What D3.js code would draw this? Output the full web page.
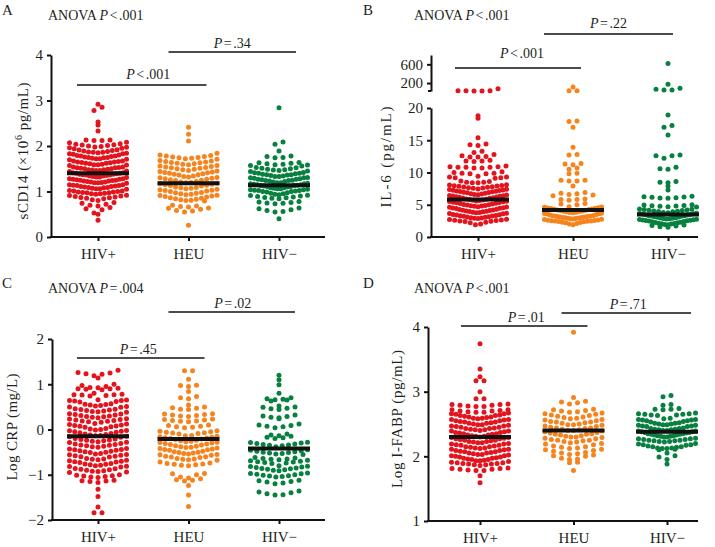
<!DOCTYPE html>
<html>
<head>
<meta charset="utf-8">
<script src="https://cdn.jsdelivr.net/npm/d3@7"></script>
<style>
body { margin: 0; background: #fff; }
svg text { font-family: "Liberation Serif", "Times New Roman", serif; fill: #231f20; }
</style>
</head>
<body>
<svg id="fig" width="715" height="547"></svg>
<script>
var groups = ["HIV+", "HEU", "HIV\u2212"];
var colors = ["#e3141d", "#f5841f", "#08803f"];

// A: sCD14 (x10^6 pg/mL)
var sCD14_hivPos = [2.92,2.85,2.78,2.53,2.46,2.33,
  2.13,2.13,2.12,2.12,2.08,2.07,
  2.05,2.04,2.03,2.02,2.01,2.00,1.99,1.98,1.97,1.96,1.95,1.94,
  1.92,1.91,1.90,1.89,1.88,1.87,1.86,1.86,1.85,1.84,1.83,1.83,1.82,
  1.80,1.79,1.78,1.78,1.77,1.76,1.75,1.75,1.74,1.73,1.72,1.72,1.71,1.70,
  1.67,1.67,1.66,1.65,1.65,1.64,1.63,1.62,1.62,1.61,1.60,1.59,1.59,1.58,1.57,
  1.54,1.54,1.53,1.52,1.52,1.51,1.50,1.50,1.49,1.48,1.48,1.47,1.46,1.46,1.45,1.44,
  1.41,1.41,1.40,1.40,1.39,1.38,1.38,1.37,1.36,1.36,1.35,1.34,1.34,1.33,1.32,1.32,1.31,
  1.28,1.28,1.27,1.27,1.26,1.25,1.25,1.24,1.23,1.23,1.22,1.21,1.21,1.20,1.19,1.19,1.18,
  1.15,1.15,1.14,1.13,1.13,1.12,1.11,1.11,1.10,1.09,1.09,1.08,1.07,1.06,1.06,1.05,
  1.02,1.01,1.01,1.00,0.99,0.99,0.98,0.97,0.97,0.96,0.95,0.95,0.94,
  0.92,0.91,0.90,0.89,0.88,0.87,0.86,0.85,0.84,0.82,0.80,
  0.76,0.74,0.72,0.70,0.68,0.65,
  0.62,0.60,0.53,0.50,
  0.37];
var sCD14_heu = [2.41,2.26,2.11,1.84,
  1.80,1.79,1.78,1.77,1.76,1.75,1.74,1.73,1.72,1.71,
  1.68,1.67,1.66,1.65,1.64,1.63,1.62,1.61,1.60,1.59,
  1.57,1.56,1.55,1.54,1.53,1.52,1.51,1.50,1.49,1.48,
  1.46,1.45,1.44,1.43,1.42,1.41,1.40,1.39,1.38,1.37,1.36,
  1.34,1.33,1.32,1.31,1.30,1.29,1.28,1.27,1.26,1.25,1.24,
  1.22,1.21,1.20,1.19,1.18,1.17,1.16,1.15,1.14,1.13,1.12,
  1.10,1.09,1.08,1.07,1.06,1.05,1.04,1.03,1.02,1.01,1.00,
  0.98,0.97,0.96,0.95,0.94,0.93,0.92,0.91,0.90,0.89,0.88,
  0.86,0.85,0.84,0.83,0.82,0.81,0.80,0.79,
  0.70,0.68,0.67,0.66,0.64,0.63,0.61,
  0.58,0.57,0.55,
  0.26];
var sCD14_hivNeg = [2.84,2.09,2.04,1.89,
  1.78,1.77,1.75,1.74,
  1.64,1.63,1.62,1.61,1.60,1.59,1.58,1.57,1.56,
  1.53,1.52,1.51,1.50,1.49,1.48,1.47,1.46,1.45,1.44,
  1.42,1.41,1.40,1.40,1.39,1.38,1.37,1.37,1.36,1.35,1.34,1.33,1.33,
  1.31,1.30,1.30,1.29,1.28,1.27,1.27,1.26,1.25,1.24,1.24,1.23,1.22,1.21,
  1.19,1.19,1.18,1.17,1.17,1.16,1.15,1.15,1.14,1.13,1.13,1.12,1.11,1.11,1.10,
  1.08,1.08,1.07,1.06,1.06,1.05,1.04,1.04,1.03,1.02,1.02,1.01,1.00,1.00,0.99,
  0.97,0.96,0.95,0.94,0.93,0.92,0.91,0.90,0.89,0.88,0.87,0.86,0.85,0.84,
  0.78,0.77,0.76,0.75,0.74,0.73,
  0.64,0.62,0.60,0.58,0.56,0.55,
  0.40];
var centerA = [1.40, 1.18, 1.14];
var ticksA = [0, 1, 2, 3, 4];

// B: IL-6 (pg/mL), broken axis
var il6_hivPos = [80,34,33,33,32,32,
  18.8,18.4,15.4,14.4,14.3,14.2,13.3,13.1,
  12.8,12.6,12.5,12.4,12.4,
  11.9,11.8,11.8,11.7,
  11.0,10.9,10.9,10.8,10.8,10.8,10.7,10.7,
  10.1,10.0,9.9,9.9,9.8,9.8,
  9.4,9.3,9.3,9.2,9.2,9.1,
  8.7,8.6,8.5,8.5,8.4,8.4,
  8.1,8.05,8.0,7.95,7.9,7.85,7.8,7.75,7.7,7.65,7.6,7.55,
  7.45,7.4,7.35,7.3,7.25,7.2,7.15,7.1,7.05,7.0,6.95,6.9,6.85,6.8,
  6.7,6.65,6.6,6.55,6.5,6.45,6.4,6.35,6.3,6.25,6.2,6.15,6.1,6.05,6.0,
  5.9,5.85,5.8,5.75,5.7,5.65,5.6,5.55,5.5,5.45,5.4,5.35,5.3,5.25,5.2,
  5.1,5.05,5.0,4.95,4.9,4.85,4.8,4.75,4.7,4.65,4.6,4.55,4.5,4.45,4.4,
  4.3,4.25,4.2,4.15,4.1,4.05,4.0,3.95,3.9,3.85,3.8,3.75,3.7,3.65,3.6,
  3.5,3.45,3.4,3.35,3.3,3.25,3.2,3.15,3.1,3.05,3.0,2.95,2.9,2.85,
  2.75,2.7,2.65,2.6,2.55,2.5,2.45,2.4,2.3,2.2,2.0,1.9];
var il6_heu = [116,34,33,
  18.0,17.9,17.0,13.9,12.8,12.7,11.4,11.3,11.2,10.7,10.5,9.9,9.8,8.8,8.8,8.7,8.7,7.9,
  6.9,6.8,6.7,6.6,6.5,6.4,5.9,5.8,5.8,5.7,5.2,5.1,5.0,
  4.7,4.65,4.6,4.55,4.5,4.45,4.4,4.35,4.3,4.25,4.2,4.15,
  4.1,4.05,4.0,3.95,3.9,3.85,3.8,3.75,3.7,3.65,3.6,3.55,3.5,3.45,
  3.35,3.3,3.27,3.24,3.2,3.17,3.14,3.1,3.07,3.04,3.0,2.97,2.94,2.9,2.87,2.84,2.8,2.77,
  2.7,2.65,2.6,2.57,2.53,2.5,2.47,2.43,2.4,2.35,2.3,2.25,2.2,2.1,2.0,1.9];
var il6_hivNeg = [620,175,88,65,52,52,
  18.9,17.3,17.0,15.8,12.7,12.6,12.6,12.2,10.8,10.6,10.5,8.6,8.5,8.4,7.9,7.3,
  6.3,6.25,6.2,6.15,6.1,6.05,6.0,
  5.0,4.95,4.9,4.85,4.8,4.75,4.7,4.65,
  4.35,4.3,4.25,4.2,4.15,4.1,4.05,4.0,3.95,3.9,
  3.8,3.75,3.7,3.65,3.6,3.55,3.5,3.45,3.4,3.35,3.3,3.25,3.2,3.15,
  3.1,3.05,3.0,2.96,2.92,2.88,2.84,2.8,2.76,2.72,2.68,2.64,2.6,2.56,2.52,2.48,
  2.4,2.35,2.3,2.25,2.2,2.15,2.1,2.05,2.0,1.95,1.9,1.85,1.8,1.7,1.6,1.5];
var centerB = [5.8, 4.2, 3.5];
var ticksB = [0, 5, 10, 15, 20];
var ticksBUpper = [200, 600];

// C: Log CRP (mg/L)
var crp_hivPos = [1.31,1.26,1.25,1.23,1.22,1.19,1.14,
  1.00,0.97,0.95,0.93,
  0.92,0.91,0.90,0.90,0.89,0.88,
  0.80,0.78,0.77,0.77,0.76,0.75,0.74,
  0.66,0.65,0.64,0.64,0.63,0.62,0.61,
  0.57,0.56,0.55,0.54,0.53,0.52,0.51,0.50,0.49,
  0.46,0.45,0.44,0.43,0.42,0.41,0.40,0.39,0.38,
  0.35,0.34,0.33,0.32,0.31,0.30,0.29,0.28,0.27,0.26,
  0.24,0.23,0.22,0.21,0.20,0.19,0.18,0.17,0.16,
  0.13,0.12,0.11,0.10,0.09,0.08,0.07,0.06,0.05,
  0.02,0.01,0.00,-0.01,-0.02,-0.03,-0.04,-0.05,-0.06,-0.07,
  -0.09,-0.10,-0.11,-0.12,-0.13,-0.14,-0.15,-0.16,-0.17,
  -0.20,-0.21,-0.22,-0.23,-0.24,-0.25,-0.26,-0.27,-0.28,-0.29,
  -0.31,-0.32,-0.33,-0.34,-0.35,-0.36,-0.37,-0.38,-0.39,
  -0.42,-0.43,-0.44,-0.45,-0.46,-0.47,-0.48,-0.49,-0.50,-0.51,
  -0.53,-0.54,-0.55,-0.56,-0.57,-0.58,-0.59,-0.60,-0.61,
  -0.64,-0.65,-0.66,-0.67,-0.68,-0.69,-0.70,-0.71,-0.72,-0.73,
  -0.75,-0.76,-0.77,-0.78,-0.79,-0.80,-0.81,-0.82,-0.83,
  -0.86,-0.87,-0.88,-0.89,-0.90,-0.91,-0.92,-0.93,-0.94,-0.95,
  -1.00,-1.01,-1.02,-1.03,-1.04,-1.05,-1.06,
  -1.12,-1.13,-1.14,-1.15,-1.17,
  -1.32,-1.48,-1.71,-1.84,-1.84];
var crp_heu = [1.30,1.30,1.11,0.98,0.97,0.95,0.84,0.73,0.70,0.68,
  0.54,0.50,0.48,0.47,0.45,0.44,
  0.35,0.34,0.33,0.32,0.31,0.30,0.29,
  0.23,0.22,0.21,0.20,0.19,0.18,0.17,
  0.10,0.09,0.07,0.06,0.05,0.04,
  -0.03,-0.04,-0.05,-0.06,-0.07,-0.08,-0.09,-0.10,
  -0.13,-0.14,-0.15,-0.16,-0.17,-0.18,-0.19,-0.20,-0.21,-0.22,
  -0.24,-0.25,-0.26,-0.27,-0.28,-0.29,-0.30,-0.31,-0.32,-0.33,-0.34,
  -0.36,-0.37,-0.38,-0.39,-0.40,-0.41,-0.42,-0.43,-0.44,-0.45,-0.46,
  -0.48,-0.49,-0.50,-0.51,-0.52,-0.53,-0.54,-0.55,-0.56,-0.57,
  -0.59,-0.60,-0.61,-0.62,-0.64,-0.65,-0.66,-0.67,-0.68,
  -0.72,-0.74,-0.75,-0.76,-0.77,-0.78,-0.79,-0.80,
  -0.97,-0.98,-1.00,
  -1.05,-1.07,-1.09,-1.11,-1.12,-1.14,
  -1.24,-1.45,-1.70];
var crp_hivNeg = [1.20,1.10,0.99,0.80,
  0.70,0.68,0.67,0.66,0.65,0.63,
  0.52,0.50,0.49,0.47,0.46,0.44,
  0.32,0.30,0.29,0.27,0.26,0.24,
  0.12,0.10,0.09,0.07,0.06,0.04,
  -0.10,-0.12,-0.14,-0.15,-0.17,-0.18,-0.20,
  -0.28,-0.29,-0.30,-0.31,-0.32,-0.33,-0.34,-0.35,-0.36,-0.38,
  -0.45,-0.46,-0.47,-0.48,-0.49,-0.50,-0.51,-0.52,-0.53,-0.54,-0.55,
  -0.62,-0.63,-0.64,-0.65,-0.66,-0.67,-0.68,-0.69,-0.70,-0.71,-0.72,-0.73,-0.74,-0.75,
  -0.80,-0.81,-0.82,-0.83,-0.84,-0.85,-0.86,-0.87,-0.88,-0.89,-0.90,-0.91,
  -0.96,-0.97,-0.98,-0.99,-1.00,-1.01,-1.02,-1.03,-1.04,-1.05,
  -1.12,-1.13,-1.15,-1.16,-1.18,-1.20,
  -1.36,-1.38,-1.40,-1.42,-1.44,-1.45];
var centerC = [-0.15, -0.21, -0.42];
var ticksC = [-2, -1, 0, 1, 2];

// D: Log I-FABP (pg/mL)
var ifabp_hivPos = [3.74,3.35,3.23,3.17,3.17,3.00,
  2.89,2.89,
  2.81,2.80,2.80,2.79,2.79,2.78,2.77,2.77,
  2.72,2.72,2.71,2.70,2.70,2.69,2.68,2.68,2.67,2.66,2.66,2.65,
  2.64,2.63,2.63,2.62,2.61,2.61,2.60,2.59,2.59,2.58,2.57,2.57,
  2.56,2.55,2.55,2.54,2.53,2.53,2.52,2.51,2.51,2.50,2.49,2.49,
  2.48,2.47,2.47,2.46,2.45,2.45,2.44,2.43,2.43,2.42,2.41,2.41,
  2.40,2.39,2.39,2.38,2.37,2.37,2.36,2.35,2.35,2.34,2.33,2.33,
  2.32,2.31,2.31,2.30,2.29,2.29,2.28,2.27,2.27,2.26,2.25,2.25,
  2.24,2.23,2.23,2.22,2.21,2.21,2.20,2.19,2.19,2.18,2.17,2.17,
  2.16,2.15,2.15,2.14,2.13,2.13,2.12,2.11,2.11,2.10,2.09,2.09,
  2.08,2.07,2.07,2.06,2.05,2.05,2.04,2.03,2.03,2.02,2.01,2.01,
  2.00,1.99,1.99,1.98,1.97,1.97,1.96,1.95,1.95,1.94,1.93,1.93,
  1.92,1.91,1.90,1.90,1.89,1.89,1.88,1.88,1.87,1.87,1.86,
  1.82,1.81,1.81,1.80,1.80,1.79,1.78,1.78,
  1.70,1.59];
var ifabp_heu = [3.92,2.91,2.85,2.84,2.83,2.81,
  2.73,2.72,2.71,2.70,2.69,2.68,2.67,2.66,2.65,
  2.64,2.63,2.62,2.61,2.60,2.59,2.58,2.57,2.56,2.55,
  2.54,2.53,2.53,2.52,2.51,2.50,2.49,2.49,2.48,2.47,2.46,
  2.45,2.44,2.44,2.43,2.42,2.41,2.40,2.40,2.39,2.38,2.37,2.36,
  2.35,2.34,2.34,2.33,2.32,2.31,2.30,2.30,2.29,2.28,2.27,
  2.26,2.25,2.25,2.24,2.23,2.22,2.21,2.20,2.19,2.18,
  2.16,2.15,2.14,2.13,2.12,2.11,2.10,2.09,2.08,
  2.06,2.05,2.04,2.03,2.02,2.01,2.00,
  1.97,1.96,1.95,1.91,1.90,
  1.78];
var ifabp_hivNeg = [2.94,2.92,
  2.80,2.79,2.74,2.73,2.73,2.72,
  2.67,2.66,2.66,2.65,2.65,2.64,2.64,2.63,
  2.59,2.58,2.57,2.57,2.56,2.56,2.55,2.55,2.54,2.53,
  2.52,2.51,2.51,2.50,2.50,2.49,2.49,2.48,2.48,2.47,2.47,2.46,2.46,
  2.44,2.43,2.43,2.42,2.42,2.41,2.41,2.40,2.40,2.39,2.39,2.38,2.38,2.37,2.37,
  2.36,2.35,2.35,2.34,2.34,2.33,2.33,2.32,2.32,2.31,2.31,2.30,2.30,
  2.28,2.27,2.27,2.26,2.26,2.25,2.25,2.24,2.24,2.23,2.23,2.22,
  2.20,2.19,2.18,2.18,2.17,2.16,2.15,2.15,
  2.14,2.13,2.13,2.12,2.12,2.11,2.10,
  2.05,2.01,1.99,1.95,
  1.88];
var centerD = [2.30, 2.40, 2.38];
var ticksD = [1, 2, 3, 4];

// swarm layout settings (pixels)
var binH = 6, dotR = 2.5, gap = 8, halfW = 28.5, lineHalf = 31;

var svg = d3.select("#fig");

// italic P, then operator and value with small gaps
function pText(sel, op, val) {
  sel.append("tspan").attr("font-style", "italic").text("P");
  sel.append("tspan").attr("dx", 1.5).text(op);
  sel.append("tspan").attr("dx", 1.5).text(val);
}

// Prism-like scatter: bin by pixel row, lowest value in the middle
function swarm(values, cx, yOf, yZero) {
  var pts = values.map(function(v) { return {v: v, y: yOf(v)}; });
  var rows = d3.groups(pts, function(p) { return Math.floor((yZero - p.y) / binH); });
  var out = [];
  rows.forEach(function(r) {
    var row = r[1].sort(function(a, b) { return a.v - b.v; });
    var n = row.length;
    var s = n > 1 ? Math.min(gap, 2 * halfW / (n - 1)) : 0;
    var slots = d3.range(n).map(function(k) { return (k - (n - 1) / 2) * s; });
    slots.sort(function(a, b) { return Math.abs(a) - Math.abs(b) || a - b; });
    row.forEach(function(p, i) { p.x = cx + slots[i]; out.push(p); });
  });
  return out;
}

var panels = [
  {letter: "A", lx: 2, ly: 15, anova: ["<", ".001"], ax: 48, ay: 19.5,
   axisX: 51, axisEnd: 325, xr: [98, 279], yDomain: [0, 4], yRange: [237, 55], ticks: ticksA,
   data: [sCD14_hivPos, sCD14_heu, sCD14_hivNeg], center: centerA,
   labelX: 28, labelY: 151, labelLen: 137, label: ["sCD14 (\u00d710", "6", " pg/mL)"],
   brackets: [{g1: 0, d1: -21, g2: 1, d2: 18, y: 85, op: "<", val: ".001", dt: 6.5, ty: 78.5},
              {g1: 1, d1: -20, g2: 2, d2: 17, y: 52, op: "=", val: ".34", dt: 0, ty: 48}]},
  {letter: "B", lx: 363, ly: 15, anova: ["<", ".001"], ax: 414, ay: 19.5,
   axisX: 431, axisEnd: 698, xr: [478, 668], yDomain: [0, 20], yRange: [237, 108], ticks: ticksB,
   upper: {domain: [30, 800], range: [91, 55], ticks: ticksBUpper},
   data: [il6_hivPos, il6_heu, il6_hivNeg], center: centerB,
   labelX: 391, labelY: 157, labelLen: 101, label: ["IL-6 (pg/mL)"],
   brackets: [{g1: 0, d1: -23, g2: 1, d2: 8, y: 68, op: "<", val: ".001", dt: 4, ty: 58},
              {g1: 1, d1: -29, g2: 2, d2: 5, y: 34, op: "=", val: ".22", dt: 0, ty: 27.5}]},
  {letter: "C", lx: 2, ly: 288, anova: ["=", ".004"], ax: 48, ay: 293,
   axisX: 52, axisEnd: 325, xr: [98, 279], yDomain: [-2, 2], yRange: [520, 339], ticks: ticksC,
   data: [crp_hivPos, crp_heu, crp_hivNeg], center: centerC,
   labelX: 17, labelY: 427, labelLen: 107, label: ["Log CRP (mg/L)"],
   brackets: [{g1: 0, d1: -21, g2: 1, d2: 16, y: 358, op: "=", val: ".45", dt: -2.5, ty: 353.5},
              {g1: 1, d1: -20, g2: 2, d2: 16, y: 312, op: "=", val: ".02", dt: 1, ty: 307.5}]},
  {letter: "D", lx: 363, ly: 288, anova: ["<", ".001"], ax: 414, ay: 293,
   axisX: 428, axisEnd: 698, xr: [480, 667], yDomain: [1, 4], yRange: [521, 327], ticks: ticksD,
   data: [ifabp_hivPos, ifabp_heu, ifabp_hivNeg], center: centerD,
   labelX: 402, labelY: 419, labelLen: 138, label: ["Log I-FABP (pg/mL)"],
   brackets: [{g1: 0, d1: -19, g2: 1, d2: 14, y: 326, op: "=", val: ".01", dt: 2, ty: 322},
              {g1: 1, d1: -12, g2: 2, d2: 24, y: 313, op: "=", val: ".71", dt: 2, ty: 308.5}]}
];

panels.forEach(function(p) {
  var g = svg.append("g");
  var x = d3.scalePoint().domain(groups).range(p.xr);
  var y = d3.scaleLinear().domain(p.yDomain).range(p.yRange);
  var yUp = p.upper ? d3.scaleLinear().domain(p.upper.domain).range(p.upper.range) : null;
  var yOf = function(v) { return (yUp && v > p.yDomain[1]) ? yUp(v) : y(v); };
  var yZero = p.yRange[0];

  // panel letter and ANOVA title
  g.append("text").attr("x", p.lx).attr("y", p.ly).attr("font-size", 15).text(p.letter);
  var t = g.append("text").attr("x", p.ax).attr("y", p.ay).attr("font-size", 14);
  t.append("tspan").text("ANOVA ");
  pText(t, p.anova[0], p.anova[1]);

  // y axis
  var ya = g.append("g").attr("transform", "translate(" + p.axisX + ",0)")
    .call(d3.axisLeft(y).tickValues(p.ticks).tickSize(4).tickSizeOuter(0).tickPadding(4)
      .tickFormat(function(d) { return d < 0 ? "\u2212" + Math.abs(d) : d; }));
  if (yUp) {
    var yu = g.append("g").attr("transform", "translate(" + p.axisX + ",0)")
      .call(d3.axisLeft(yUp).tickValues(p.upper.ticks).tickSize(4).tickSizeOuter(0).tickPadding(4));
    yu.append("line").attr("x1", -3).attr("x2", 0).attr("y1", p.upper.range[0]).attr("y2", p.upper.range[0])
      .attr("stroke", "#111").attr("stroke-width", 2);
    styleAxis(yu);
  }
  styleAxis(ya);

  // x axis
  var xa = g.append("g").attr("transform", "translate(0," + yZero + ")")
    .call(d3.axisBottom(x).tickSize(4).tickPadding(7));
  xa.select(".domain").remove();
  xa.append("line").attr("x1", p.axisX - 1).attr("x2", p.axisEnd).attr("y1", 0).attr("y2", 0)
    .attr("stroke", "#111").attr("stroke-width", 2);
  styleAxis(xa);

  // y label
  var lab = g.append("text")
    .attr("transform", "translate(" + p.labelX + "," + p.labelY + ") rotate(-90)")
    .attr("text-anchor", "middle").attr("font-size", 15)
    .attr("textLength", p.labelLen).attr("lengthAdjust", "spacing");
  lab.append("tspan").text(p.label[0]);
  if (p.label.length > 1) {
    lab.append("tspan").attr("dy", -6).attr("font-size", 10).text(p.label[1]);
    lab.append("tspan").attr("dy", 6).text(p.label[2]);
  }

  // dots
  groups.forEach(function(grp, gi) {
    var pts = swarm(p.data[gi], x(grp), yOf, yZero);
    g.append("g").selectAll("circle").data(pts).enter().append("circle")
      .attr("cx", function(d) { return d.x; })
      .attr("cy", function(d) { return d.y; })
      .attr("r", dotR)
      .attr("fill", colors[gi]);
  });

  // center lines
  g.append("g").selectAll("line").data(p.center).enter().append("line")
    .attr("x1", function(d, i) { return x(groups[i]) - lineHalf; })
    .attr("x2", function(d, i) { return x(groups[i]) + lineHalf; })
    .attr("y1", function(d) { return y(d); })
    .attr("y2", function(d) { return y(d); })
    .attr("stroke", "#111").attr("stroke-width", 4);

  // comparison brackets
  p.brackets.forEach(function(b) {
    var x1 = x(groups[b.g1]) + b.d1, x2 = x(groups[b.g2]) + b.d2;
    g.append("line").attr("x1", x1).attr("x2", x2).attr("y1", b.y).attr("y2", b.y)
      .attr("stroke", "#111").attr("stroke-width", 1.6);
    var bt = g.append("text").attr("x", (x1 + x2) / 2 + b.dt).attr("y", b.ty)
      .attr("text-anchor", "middle").attr("font-size", 14);
    pText(bt, b.op, b.val);
  });
});

function styleAxis(a) {
  a.selectAll(".domain").attr("stroke", "#111").attr("stroke-width", 2);
  a.selectAll(".tick line").attr("stroke", "#111").attr("stroke-width", 2);
  a.selectAll(".tick text").attr("font-size", 15)
    .style("font-family", "'Liberation Serif', 'Times New Roman', serif").attr("fill", "#231f20");
}
</script>
</body>
</html>
